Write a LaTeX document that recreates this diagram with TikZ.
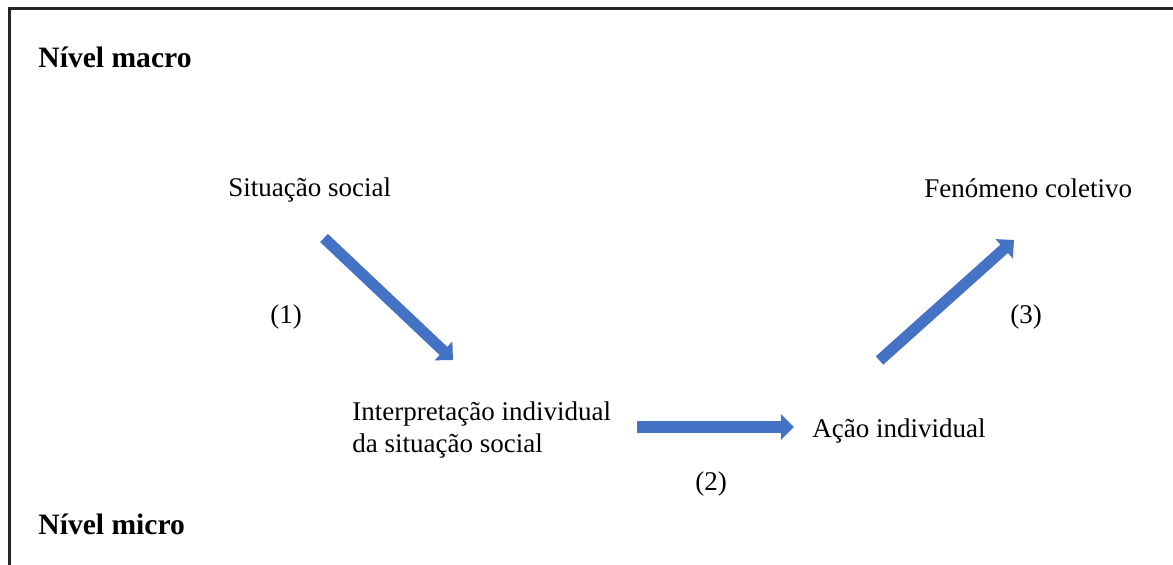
\documentclass[tikz,border=0pt]{standalone}
\usepackage{fontspec}
\setmainfont{Liberation Serif}
\usetikzlibrary{arrows.meta}
\definecolor{arrblue}{HTML}{4472C4}
\begin{document}
\begin{tikzpicture}[x=0.5pt,y=-0.5pt,
  lbl/.style={anchor=west,inner sep=0pt,font=\fontsize{13.5pt}{16pt}\selectfont},
  lvl/.style={anchor=west,inner sep=0pt,font=\fontsize{14.8pt}{17pt}\selectfont\bfseries},
  blockarrow/.style={draw=arrblue,line width=5.6pt,-{Triangle[width=12.6pt,length=6.6pt]}},
  frameline/.style={draw=black!85,line width=1.5pt}]
\useasboundingbox (0,0) rectangle (1173,565);
\coordinate (fa) at (9,566);
\coordinate (fb) at (9,9);
\coordinate (fc) at (1174,9);
\draw[frameline] (fa) -- (fb) -- (fc);
\node[lvl] (macro) at (38,57) {Nível macro};
\node[lvl] (micro) at (38,524) {Nível micro};
\node[lbl] (sit) at (228,190) {Situação social};
\node[lbl] (fen) at (924,188) {Fenómeno coletivo};
\node[lbl] (n1) at (270,317) {(1)};
\node[lbl] (n3) at (1010,317) {(3)};
\node[lbl] (n2) at (695,484) {(2)};
\node[lbl,align=left] (interp) at (352,430) {Interpretação individual\\da situação social};
\node[lbl] (acao) at (812,431) {Ação individual};
\coordinate (a1s) at (324,238);
\coordinate (a1e) at (453,360);
\coordinate (a2s) at (637,427);
\coordinate (a2e) at (794,427);
\coordinate (a3s) at (879.5,360.5);
\coordinate (a3e) at (1014,240);
\draw[blockarrow] (a1s) -- (a1e);
\draw[blockarrow] (a2s) -- (a2e);
\draw[blockarrow] (a3s) -- (a3e);
\end{tikzpicture}
\end{document}
